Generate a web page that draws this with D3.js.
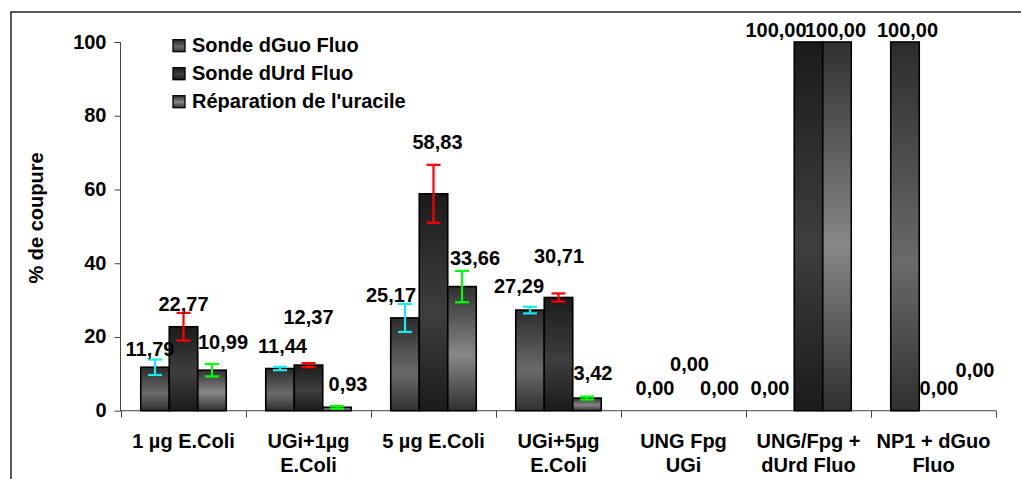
<!DOCTYPE html>
<html>
<head>
<meta charset="utf-8">
<script src="https://cdn.jsdelivr.net/npm/d3@7"></script>
<style>
  html, body { margin: 0; padding: 0; background: #fff; }
  svg { display: block; }
  text { font-family: "Liberation Sans", Arial, Helvetica, sans-serif; font-weight: bold; fill: #000; }
</style>
</head>
<body>
<svg id="chart" width="1021" height="479"></svg>
<script>
// ---------------- data ----------------
const categories = [
  ["1 µg E.Coli"],
  ["UGi+1µg", "E.Coli"],
  ["5 µg E.Coli"],
  ["UGi+5µg", "E.Coli"],
  ["UNG Fpg", "UGi"],
  ["UNG/Fpg +", "dUrd Fluo"],
  ["NP1 + dGuo", "Fluo"]
];
const seriesNames = ["Sonde dGuo Fluo", "Sonde dUrd Fluo", "Réparation de l'uracile"];
const dGuoValues   = [11.79, 11.44, 25.17, 27.29, 0.00, 0.00, 100.00];
const dUrdValues   = [22.77, 12.37, 58.83, 30.71, 0.00, 100.00, 0.00];
const repairValues = [10.99, 0.93, 33.66, 3.42, 0.00, 100.00, 0.00];
const dGuoErrors   = [2.1, 0.45, 3.8, 0.9, 0, 0, 0];
const dUrdErrors   = [3.75, 0.55, 7.85, 1.1, 0, 0, 0];
const repairErrors = [1.7, 0.35, 4.25, 0.4, 0, 0, 0];
const yTicks = [0, 20, 40, 60, 80, 100];

// ---------------- layout / style ----------------
const seriesValues = [dGuoValues, dUrdValues, repairValues];
const seriesErrors = [dGuoErrors, dUrdErrors, repairErrors];
const errColors = ["#19e8ef", "#ff0000", "#00ff00"];
const gradStops = [
  [["0", "#2c2c2c"], ["0.6", "#6a6a6a"], ["1", "#303030"]],
  [["0", "#1b1b1b"], ["0.55", "#3e3e3e"], ["1", "#1b1b1b"]],
  [["0", "#303030"], ["0.55", "#878787"], ["1", "#303030"]]
];
// label nudges [dx, dy] relative to bar centre / bar top (manual placements in the original)
const labelNudge = [
  [[-5,-11],[2.5,-16],[-14,-16],[-11,-17],[0,-16],[-10,-16],[2.5,-5]],
  [[0,-16],[0,-41],[4,-45],[0.5,-34],[6,-40],[-32.5,-5],[5.5,-16]],
  [[11,-21],[11,-16],[13,-22],[6,-18],[7.5,-16],[-1.5,-5],[13,-34]]
];
const FS = 20;

const svg = d3.select("#chart");
const defs = svg.append("defs");
gradStops.forEach((stops, i) => {
  const g = defs.append("linearGradient").attr("id", "grad" + i)
    .attr("x1", 0).attr("y1", 0).attr("x2", 0).attr("y2", 1);
  stops.forEach(s => g.append("stop").attr("offset", s[0]).attr("stop-color", s[1]));
});

// outer frame (only top/left visible)
svg.append("rect").attr("x", 11).attr("y", 12).attr("width", 1100).attr("height", 600)
  .attr("fill", "none").attr("stroke", "#222").attr("stroke-width", 1.5);

const x0 = d3.scaleBand().domain(d3.range(categories.length)).range([121, 996]).padding(0);
const groupW = 85.5;
const x1 = d3.scaleBand().domain([0, 1, 2]).range([0, groupW]).padding(0);
const y = d3.scaleLinear().domain([0, 100]).range([410.7, 42]);

const groupLeft = i => x0(i) + (x0.bandwidth() - groupW) / 2;

// y axis
const yAxis = svg.append("g").attr("transform", "translate(120.5,0)")
  .call(d3.axisLeft(y).tickValues(yTicks).tickSize(6).tickPadding(8).tickFormat(d3.format("d")));
yAxis.select(".domain").attr("stroke", "#444").attr("d", `M0,${y(100)}V${y(0)+0.5}`);
yAxis.selectAll(".tick line").attr("stroke", "#444");
yAxis.selectAll(".tick text").style("font-size", FS + "px").attr("dy", "0.3em")
  .style("font-family", '"Liberation Sans", Arial, sans-serif').style("font-weight", "bold");

// x axis line and boundary ticks
const xg = svg.append("g");
xg.append("line").attr("x1", 120.5).attr("x2", 996).attr("y1", y(0)).attr("y2", y(0))
  .attr("stroke", "#444");
d3.range(categories.length + 1).forEach(i => {
  const xx = i < categories.length ? x0(i) : x0(i - 1) + x0.bandwidth();
  xg.append("line").attr("x1", Math.round(xx) + 0.5).attr("x2", Math.round(xx) + 0.5)
    .attr("y1", y(0)).attr("y2", y(0) + 7).attr("stroke", "#444");
});
categories.forEach((lines, i) => {
  const t = xg.append("text").attr("text-anchor", "middle")
    .attr("x", x0(i) + x0.bandwidth() / 2).style("font-size", FS + "px");
  lines.forEach((ln, k) => t.append("tspan").attr("x", x0(i) + x0.bandwidth() / 2)
    .attr("y", 448 + k * 23.5).text(ln));
});

// y label
svg.append("text").attr("transform", "translate(43,218) rotate(-90)")
  .attr("text-anchor", "middle").style("font-size", FS + "px").text("% de coupure");

// bars
const fmt = v => d3.format(".2f")(v).replace(".", ",");
seriesValues.forEach((vals, s) => {
  const g = svg.append("g");
  vals.forEach((v, i) => {
    const bx = groupLeft(i) + x1(s);
    if (v > 0) {
      g.append("rect").attr("x", bx).attr("y", y(v)).attr("width", x1.bandwidth())
        .attr("height", y(0) - y(v)).attr("fill", `url(#grad${s})`)
        .attr("stroke", "#000").attr("stroke-width", 1.6);
    }
  });
});

// error bars
seriesValues.forEach((vals, s) => {
  const g = svg.append("g").attr("stroke", errColors[s]).attr("stroke-width", 2.2);
  vals.forEach((v, i) => {
    const e = seriesErrors[s][i];
    if (!e) return;
    const cx = groupLeft(i) + x1(s) + x1.bandwidth() / 2;
    const yt = y(v + e), yb = y(v - e);
    g.append("line").attr("x1", cx).attr("x2", cx).attr("y1", yt).attr("y2", yb);
    g.append("line").attr("x1", cx - 7).attr("x2", cx + 7).attr("y1", yt).attr("y2", yt);
    g.append("line").attr("x1", cx - 7).attr("x2", cx + 7).attr("y1", yb).attr("y2", yb);
  });
});

// value labels
seriesValues.forEach((vals, s) => {
  vals.forEach((v, i) => {
    const cx = groupLeft(i) + x1(s) + x1.bandwidth() / 2;
    const n = labelNudge[s][i];
    svg.append("text").attr("text-anchor", "middle")
      .attr("x", cx + n[0]).attr("y", y(v) + n[1])
      .style("font-size", FS + "px").text(fmt(v));
  });
});

// legend
const lg = svg.append("g");
seriesNames.forEach((name, s) => {
  const yy = 51.7 + s * 28;
  lg.append("rect").attr("x", 173).attr("y", yy - 12).attr("width", 12).attr("height", 12)
    .attr("fill", `url(#grad${s})`).attr("stroke", "#000").attr("stroke-width", 1.3);
  lg.append("text").attr("x", 192).attr("y", yy).style("font-size", FS + "px").text(name);
});
</script>
</body>
</html>
